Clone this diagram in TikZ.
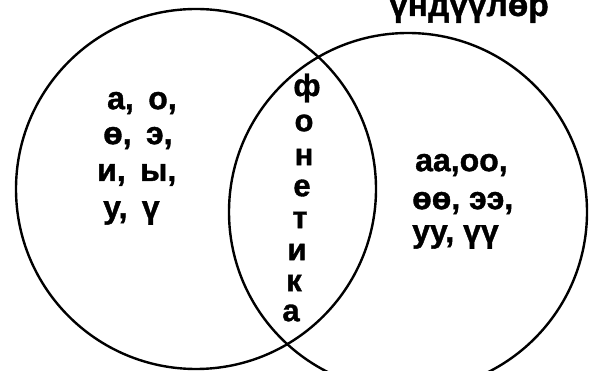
\documentclass[tikz,border=0pt]{standalone}
\usepackage{fontspec}
\setmainfont{Liberation Sans}
\newfontfamily\heavy[FakeBold=1.2]{Liberation Sans Bold}
\newcommand{\gp}{\hspace{0.45em}}
\begin{document}
\begin{tikzpicture}[x=1pt,y=-1pt,
  ring/.style={draw=black,line width=2.4pt},
  vow/.style={font=\fontsize{32}{32}\selectfont\heavy,inner sep=0pt,anchor=west},
  let/.style={font=\fontsize{31}{31}\selectfont\heavy,inner sep=0pt}]
\useasboundingbox (0,0) rectangle (597,371);
\begin{scope}
\clip (0,0) rectangle (597,371);
\node[ring,circle,minimum size=360pt,inner sep=0pt] (L) at (196,189) {};
\node[ring,circle,minimum size=358pt,inner sep=0pt] (R) at (408,212) {};
\node[font=\fontsize{33.5}{33.5}\selectfont\heavy,inner sep=0pt,anchor=base west] (T) at (389,16) {үндүүлөр};
\end{scope}
\node[vow] (l1) at (107,103) {а,\gp о,};
\node[vow] (l2) at (103,138) {ө,\gp э,};
\node[vow] (l3) at (97,175) {и,\gp ы,};
\node[vow] (l4) at (103,213) {у,\gp ү};
\node[vow] (r1) at (415,165) {аа,оо,};
\node[vow] (r2) at (412,203) {өө,\ ээ,};
\node[vow] (r3) at (412,237) {уу,\ үү};
\node[let] (f1) at (307,88) {ф};
\node[let] (f2) at (304,123) {о};
\node[let] (f3) at (304,157) {н};
\node[let] (f4) at (302,188) {е};
\node[let] (f5) at (300,220) {т};
\node[let] (f6) at (297,252) {и};
\node[let] (f7) at (294,283) {к};
\node[let] (f8) at (291,313) {а};
\end{tikzpicture}
\end{document}
